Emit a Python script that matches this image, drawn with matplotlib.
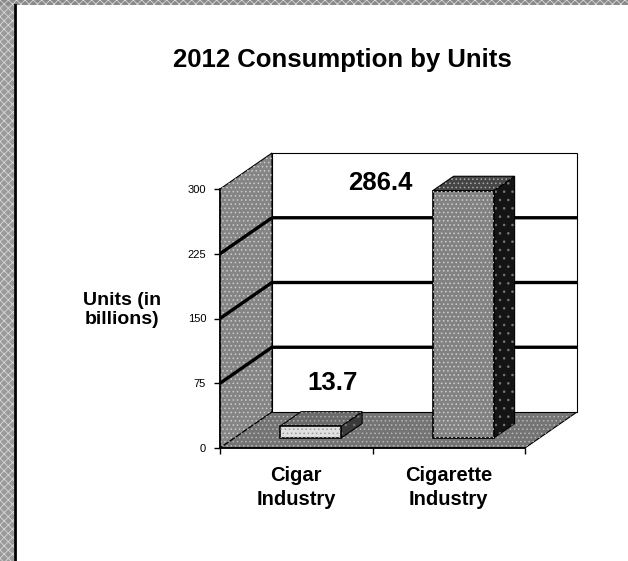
import matplotlib
matplotlib.use('Agg')
import matplotlib.pyplot as plt
from matplotlib.patches import Polygon, Rectangle

# data
categories = ['Cigar\nIndustry', 'Cigarette\nIndustry']
units = [13.7, 286.4]
value_labels = ['13.7', '286.4']
yticks = [0, 75, 150, 225, 300]
title = '2012 Consumption by Units'
ylabel = 'Units (in\nbillions)'

# where the value labels sit (category x, value y)
label_pos = [(0.74, 75), (1.05, 307)]

plt.rcParams['font.family'] = ['Liberation Sans', 'DejaVu Sans']
plt.rcParams['hatch.linewidth'] = 0.6

W, H = 628, 561
fig = plt.figure(figsize=(W / 100, H / 100), dpi=100)
ax = fig.add_axes([220 / W, (H - 448) / H, 305 / W, 259 / H])
ax.set_xlim(0, 2)
ax.set_ylim(0, 300)
ax.set_facecolor('none')

# fake 3D depth in data units
DX = 52 / 305 * 2
DY = 36 / 259 * 300
ymax = yticks[-1]


def textured(pts, face, hatch_col, hatch='....', z=1, edge='black', lw=0.8):
    ax.add_patch(Polygon(pts, closed=True, facecolor=face, edgecolor=edge,
                         linewidth=lw, zorder=z, clip_on=False))
    if hatch:
        ax.add_patch(Polygon(pts, closed=True, facecolor='none', edgecolor=hatch_col,
                             linewidth=0, hatch=hatch, zorder=z + 0.1, clip_on=False))


# walls and floor
textured([(0, 0), (DX, DY), (DX, ymax + DY), (0, ymax)], '#858585', '#cccccc', z=1)
textured([(0, 0), (2, 0), (2 + DX, DY), (DX, DY)], '#747474', '#b8b8b8', z=1)
ax.add_patch(Rectangle((DX, DY), 2, ymax, facecolor='white', edgecolor='black',
                       linewidth=0.8, zorder=1.5, clip_on=False))

for t in yticks[1:-1]:
    ax.plot([0, DX, 2 + DX], [t, t + DY, t + DY], color='black', lw=2.4,
            zorder=2, clip_on=False, solid_capstyle='butt')

# bars
f0, f1 = 0.28, 0.68
bw = 0.4
for i, v in enumerate(units):
    x0 = i + 0.5 - bw / 2 + f0 * DX
    x1 = x0 + bw
    y0 = f0 * DY
    y1 = v + f0 * DY
    ddx = (f1 - f0) * DX
    ddy = (f1 - f0) * DY
    if i == 0:
        front, top, side = '#e0e0e0', '#6a6a6a', '#3a3a3a'
        hc = '#9a9a9a'
    else:
        front, top, side = '#828282', '#454545', '#141414'
        hc = '#cfcfcf'
    textured([(x1, y0), (x1 + ddx, y0 + ddy), (x1 + ddx, y1 + ddy), (x1, y1)],
             side, '#777777', hatch='..', z=3)
    textured([(x0, y1), (x1, y1), (x1 + ddx, y1 + ddy), (x0 + ddx, y1 + ddy)],
             top, '#aaaaaa', hatch='....', z=3)
    textured([(x0, y0), (x1, y0), (x1, y1), (x0, y1)], front, hc, hatch='....', z=3.5,
             lw=1.2)

for (lx, ly), s in zip(label_pos, value_labels):
    ax.text(lx, ly, s, ha='center', va='center', fontsize=18.5, fontweight='bold', zorder=5)

# axes
for s in ['top', 'right']:
    ax.spines[s].set_visible(False)
for s in ['left', 'bottom']:
    ax.spines[s].set_linewidth(1.2)
    ax.spines[s].set_zorder(4)
ax.set_yticks(yticks)
ax.tick_params(axis='y', length=4, width=1, pad=6, labelsize=8)
ax.set_xticks([0, 1, 2], minor=True)
ax.set_xticks([0.5, 1.5])
ax.set_xticklabels(categories, fontsize=14.5, fontweight='bold', linespacing=1.35)
ax.tick_params(axis='x', which='major', length=0, pad=13)
ax.tick_params(axis='x', which='minor', length=4, width=1)

fig.text(342 / W, 1 - 60 / H, title, ha='center', va='center', fontsize=18.5,
         fontweight='bold')
fig.text(122 / W, 1 - 310 / H, ylabel, ha='center', va='center', fontsize=14,
         fontweight='bold', multialignment='center', linespacing=1.15)

# scanned page edges
fig.patches.append(Rectangle((0, 0), 14 / W, 1, transform=fig.transFigure,
                             facecolor='#9a9a9a', edgecolor='#d8d8d8', hatch='xxxx',
                             linewidth=0, zorder=0))
fig.patches.append(Rectangle((0, 1 - 5 / H), 1, 5 / H, transform=fig.transFigure,
                             facecolor='#8a8a8a', edgecolor='#d8d8d8', hatch='xxxx',
                             linewidth=0, zorder=0))
fig.lines.append(plt.Line2D([15 / W, 15 / W], [0, 1 - 5 / H], transform=fig.transFigure,
                            color='black', lw=2))

fig.savefig('out.png', dpi=100)
